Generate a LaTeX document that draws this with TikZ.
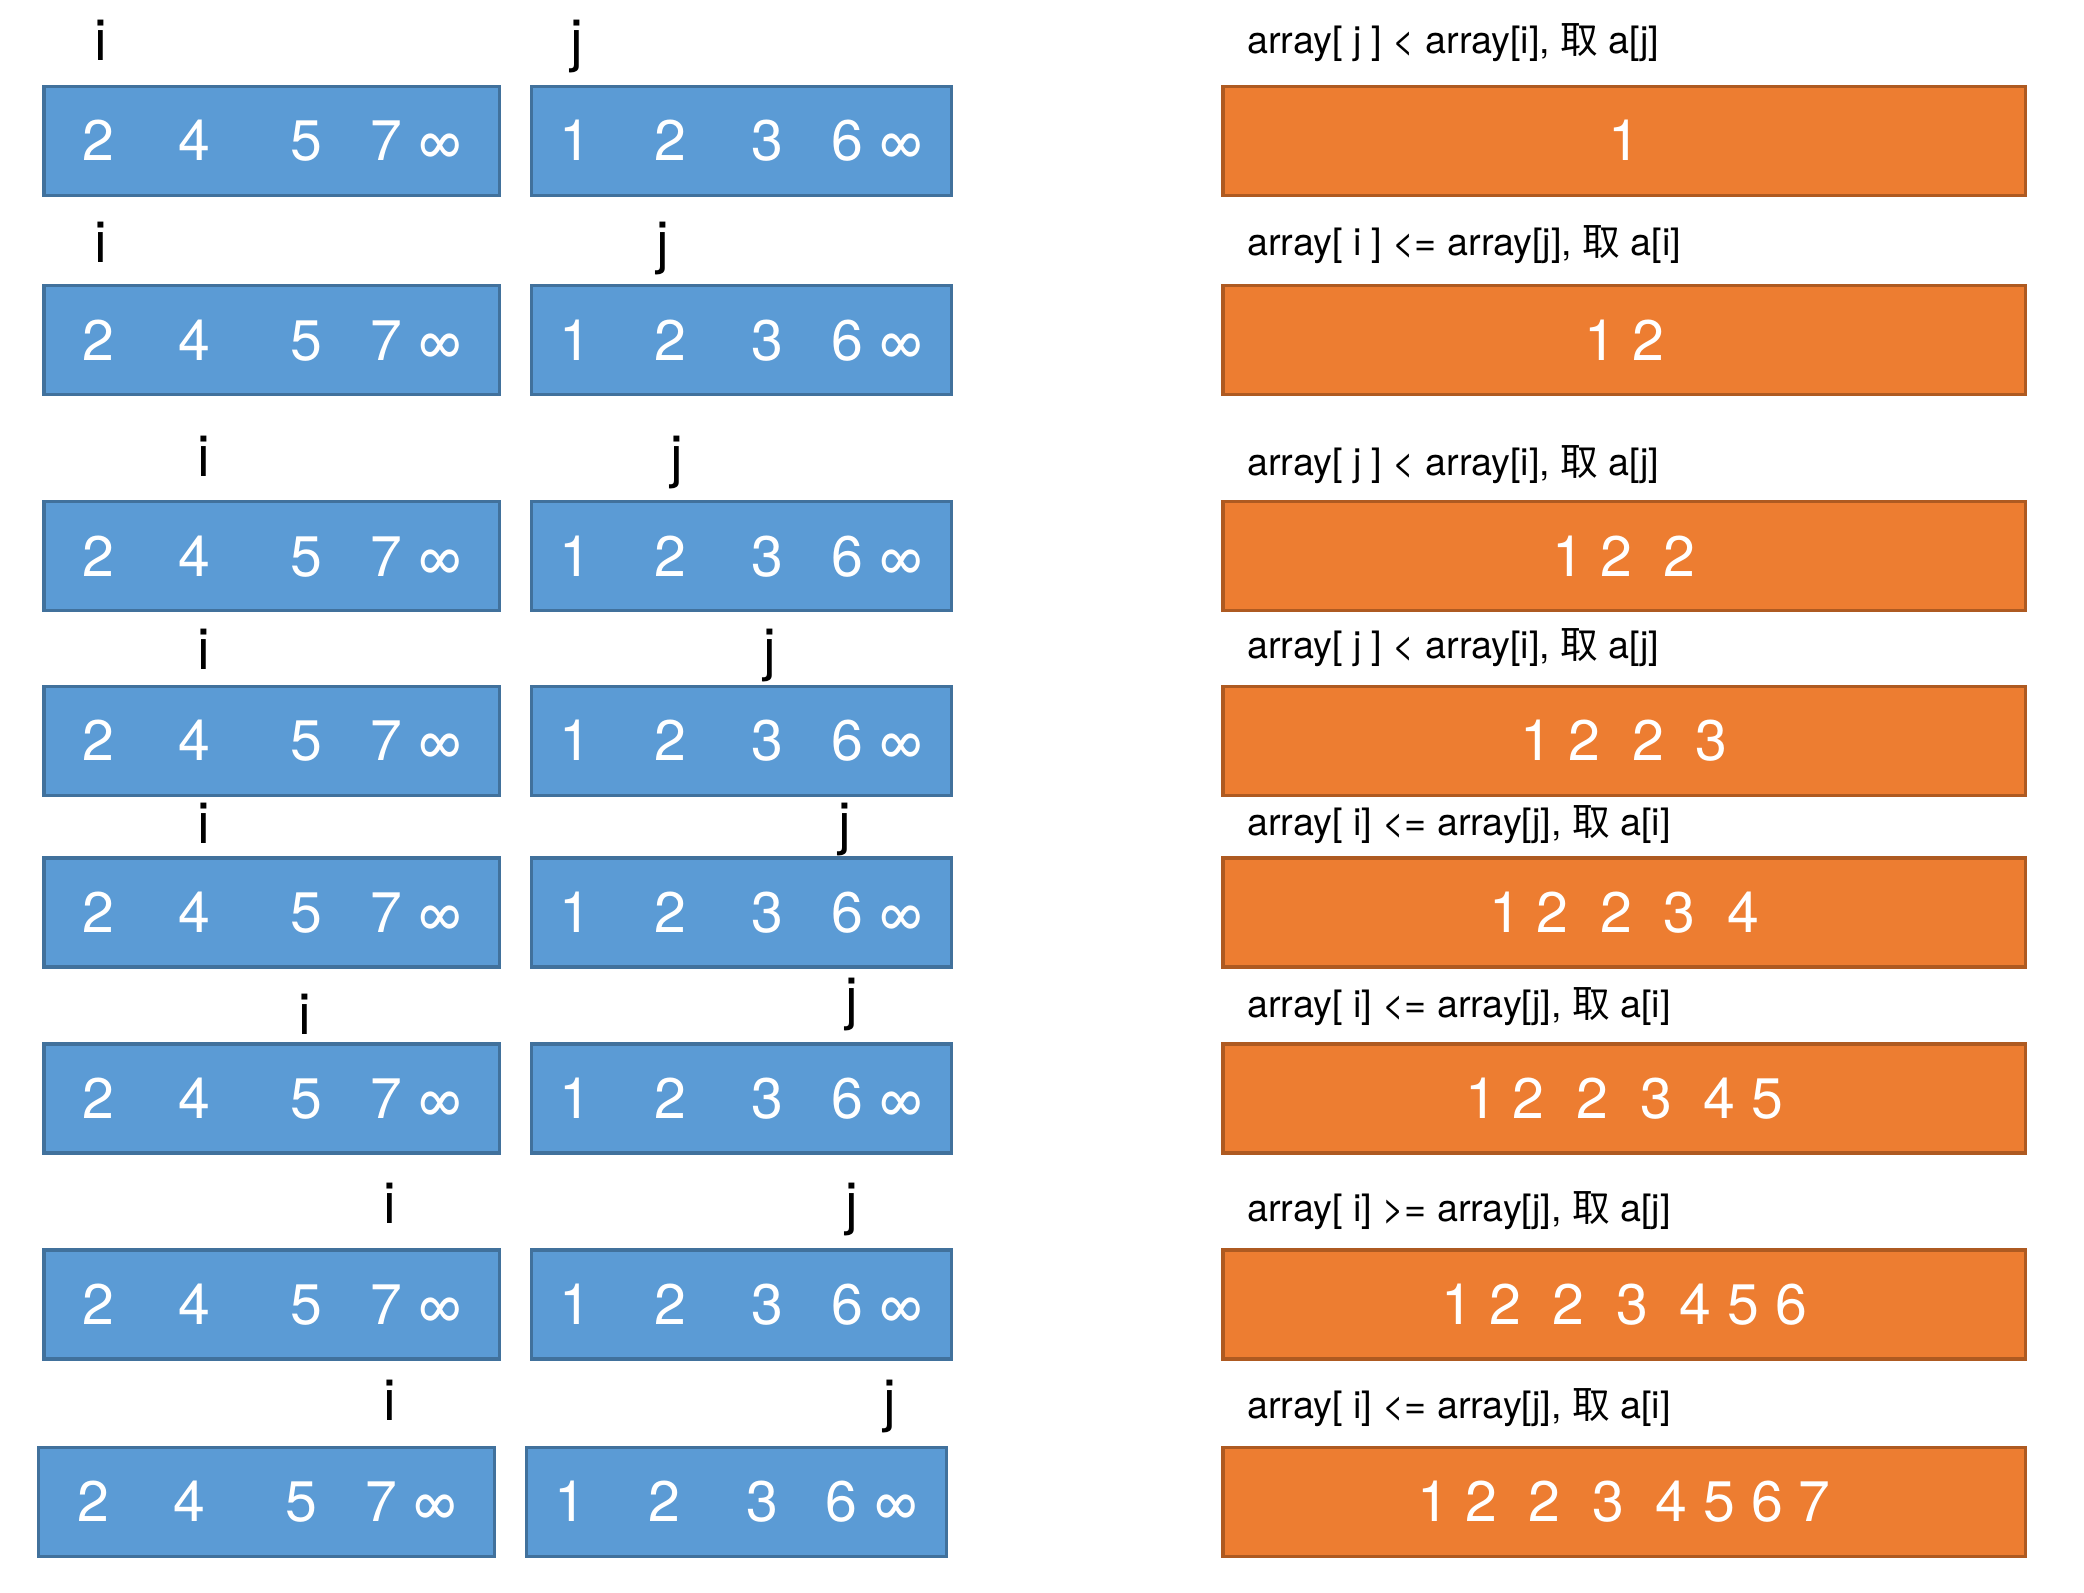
\documentclass[tikz,border=0pt]{standalone}
\usepackage{fontspec}
\setmainfont{TeX Gyre Heros}
\newfontfamily\cjk{Noto Sans CJK SC}
\usepackage{xcolor}
\usetikzlibrary{positioning}

\definecolor{cellblue}{HTML}{5B9BD5}
\definecolor{edgeblue}{HTML}{41719C}
\definecolor{cellorange}{HTML}{ED7D31}
\definecolor{edgeorange}{HTML}{AE5A21}

% contents of the two input arrays
\newcommand{\leftvals}{\makebox[171.5pt][l]{\hspace{14.5pt}2\hspace{24.2pt}4\hspace{30.3pt}5\hspace{18pt}7\hspace{6.7pt}∞}}
\newcommand{\rightvals}{\makebox[158pt][l]{\hspace{10.5pt}1\hspace{23.7pt}2\hspace{24.6pt}3\hspace{18pt}6\hspace{6.6pt}∞}}

\begin{document}
\begin{tikzpicture}[
  x=0.5pt, y=-0.5pt,
  cell/.style={line width=1.3pt, minimum height=41pt, inner sep=0pt, outer sep=0pt, anchor=north west,
    text=white, font=\fontsize{21.5}{24}\selectfont, text height=15pt, text depth=0pt},
  lbox/.style={cell, draw=edgeblue, fill=cellblue, minimum width=171.5pt},
  rbox/.style={cell, draw=edgeblue, fill=cellblue, minimum width=158pt},
  obox/.style={cell, draw=edgeorange, fill=cellorange, minimum width=302pt},
  ptr/.style={font=\fontsize{21.5}{24}\selectfont, inner sep=0pt, anchor=base},
  cond/.style={font=\fontsize{14.2}{16}\selectfont, inner sep=0pt, anchor=base west},
]
\useasboundingbox (0,0) rectangle (1568,1198);

% Row 1
\node[lbox] (a1) at (33,65) {\leftvals};
\node[rbox] (b1) at (400,65) {\rightvals};
\node[obox] (m1) at (920,65) {1};
\node[ptr] (i1) at (75.5,45.6) {i};
\node[ptr] (j1) at (434,45.6) {j};
\node[cond] (c1) at (938,40.6) {array[ j ] < array[i], {\cjk 取} a[j]};

% Row 2
\node[lbox] (a2) at (33,215) {\leftvals};
\node[rbox] (b2) at (400,215) {\rightvals};
\node[obox] (m2) at (920,215) {1 2};
\node[ptr] (i2) at (75.5,197.4) {i};
\node[ptr] (j2) at (498.6,197.4) {j};
\node[cond] (c2) at (938,191.9) {array[ i ] <= array[j], {\cjk 取} a[i]};

% Row 3
\node[lbox] (a3) at (33,377.5) {\leftvals};
\node[rbox] (b3) at (400,377.5) {\rightvals};
\node[obox] (m3) at (920,377.5) {1 2\ \ 2};
\node[ptr] (i3) at (153.4,358.7) {i};
\node[ptr] (j3) at (509.5,358.7) {j};
\node[cond] (c3) at (938,357.4) {array[ j ] < array[i], {\cjk 取} a[j]};

% Row 4
\node[lbox] (a4) at (33,516.5) {\leftvals};
\node[rbox] (b4) at (400,516.5) {\rightvals};
\node[obox] (m4) at (920,516.5) {1 2\ \ 2\ \ 3};
\node[ptr] (i4) at (153.4,503.6) {i};
\node[ptr] (j4) at (578.9,503.6) {j};
\node[cond] (c4) at (938,495.4) {array[ j ] < array[i], {\cjk 取} a[j]};

% Row 5
\node[lbox] (a5) at (33,645.5) {\leftvals};
\node[rbox] (b5) at (400,645.5) {\rightvals};
\node[obox] (m5) at (920,645.5) {1 2\ \ 2\ \ 3\ \ 4};
\node[ptr] (i5) at (153.4,634.8) {i};
\node[ptr] (j5) at (635.8,634.8) {j};
\node[cond] (c5) at (938,628.6) {array[ i] <= array[j], {\cjk 取} a[i]};

% Row 6
\node[lbox] (a6) at (33,785.5) {\leftvals};
\node[rbox] (b6) at (400,785.5) {\rightvals};
\node[obox] (m6) at (920,785.5) {1 2\ \ 2\ \ 3\ \ 4 5};
\node[ptr] (i6) at (229,778.5) {i};
\node[ptr] (j6) at (640.6,766.4) {j};
\node[cond] (c6) at (938,765.4) {array[ i] <= array[j], {\cjk 取} a[i]};

% Row 7
\node[lbox] (a7) at (33,940.5) {\leftvals};
\node[rbox] (b7) at (400,940.5) {\rightvals};
\node[obox] (m7) at (920,940.5) {1 2\ \ 2\ \ 3\ \ 4 5 6};
\node[ptr] (i7) at (293,920.4) {i};
\node[ptr] (j7) at (640.6,920.4) {j};
\node[cond] (c7) at (938,919.2) {array[ i] >= array[j], {\cjk 取} a[j]};

% Row 8
\node[lbox] (a8) at (29,1089) {\leftvals};
\node[rbox] (b8) at (396,1089) {\rightvals};
\node[obox] (m8) at (920,1089) {1 2\ \ 2\ \ 3\ \ 4 5 6 7};
\node[ptr] (i8) at (293,1069) {i};
\node[ptr] (j8) at (669.2,1069) {j};
\node[cond] (c8) at (938,1067.2) {array[ i] <= array[j], {\cjk 取} a[i]};

\end{tikzpicture}
\end{document}
